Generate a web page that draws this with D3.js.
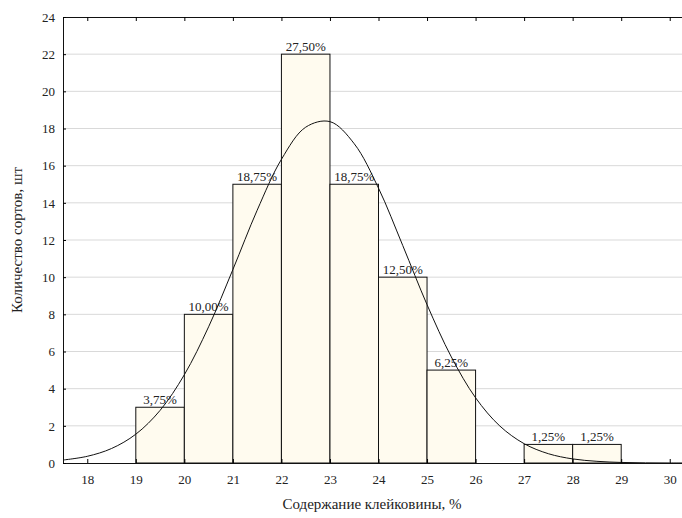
<!DOCTYPE html>
<html>
<head>
<meta charset="utf-8">
<script src="https://cdn.jsdelivr.net/npm/d3@7"></script>
<style>
  body { margin: 0; background: #fff; }
  svg text { font-family: "Liberation Serif", "Times New Roman", "DejaVu Serif", serif !important; fill: #222; }
</style>
</head>
<body>
<script>
// histogram bins (left edge), counts and labels
const binStart = [19, 20, 21, 22, 23, 24, 25, 27, 28];
const counts = [3, 8, 15, 22, 15, 10, 5, 1, 1];
const pctLabels = ["3,75%", "10,00%", "18,75%", "27,50%", "18,75%", "12,50%", "6,25%", "1,25%", "1,25%"];

// fitted normal curve
const curveX = [17.5, 18, 18.5, 19, 19.5, 20, 20.5, 21, 21.5, 22, 22.5, 23, 23.5, 24,
                24.5, 25, 25.5, 26, 26.5, 27, 27.5, 28, 28.5, 29, 29.5, 30, 30.5];
const curveY = [0.16, 0.36, 0.78, 1.55, 2.83, 4.75, 7.33, 10.41, 13.6, 16.34, 18.07, 18.37, 17.18, 14.79,
                11.7, 8.52, 5.71, 3.51, 1.99, 1.04, 0.5, 0.22, 0.09, 0.03, 0.01, 0.003, 0.001];

const xTicks = [18, 19, 20, 21, 22, 23, 24, 25, 26, 27, 28, 29, 30];
const yTicks = [0, 2, 4, 6, 8, 10, 12, 14, 16, 18, 20, 22, 24];

const width = 682;
const height = 518;

const svg = d3.select("body")
    .append("svg")
    .attr("width", width)
    .attr("height", height);

// X scale
const x = d3.scaleLinear()
    .domain([17.5, 30.5])
    .range([63, 694]);

// Y scale
const y = d3.scaleLinear()
    .domain([0, 24])
    .range([463, 17]);

// grid lines
svg.append("g")
    .selectAll("line")
    .data(yTicks.filter(d => d > 0 && d < 24))
    .enter()
    .append("line")
    .attr("x1", x(17.5))
    .attr("x2", width)
    .attr("y1", d => y(d))
    .attr("y2", d => y(d))
    .attr("stroke", "#d9d9d9")
    .attr("stroke-width", 1);

// bars
svg.selectAll("rect.bar")
    .data(counts)
    .enter()
    .append("rect")
    .attr("class", "bar")
    .attr("x", (d, i) => x(binStart[i]))
    .attr("y", d => y(d))
    .attr("width", (d, i) => x(binStart[i] + 1) - x(binStart[i]))
    .attr("height", d => y(0) - y(d))
    .attr("fill", "#fffbef")
    .attr("stroke", "#111")
    .attr("stroke-width", 1);

// percentage labels
svg.selectAll("text.pct")
    .data(counts)
    .enter()
    .append("text")
    .attr("class", "pct")
    .attr("x", (d, i) => x(binStart[i] + 0.5))
    .attr("y", d => y(d) - 3)
    .attr("text-anchor", "middle")
    .attr("font-size", 13)
    .text((d, i) => pctLabels[i]);

// normal curve
const line = d3.line()
    .x((d, i) => x(curveX[i]))
    .y(d => y(d))
    .curve(d3.curveCatmullRom);

svg.append("path")
    .datum(curveY)
    .attr("fill", "none")
    .attr("stroke", "#111")
    .attr("stroke-width", 1)
    .attr("d", line);

// X axis (bottom)
const xAxis = svg.append("g")
    .attr("transform", `translate(0,${y(0)})`)
    .call(d3.axisBottom(x).tickValues(xTicks).tickSize(-4).tickPadding(12).tickFormat(d3.format("d")));
xAxis.select(".domain").attr("stroke", "#111");
xAxis.selectAll("text").attr("font-size", 13);

// top axis
const topAxis = svg.append("g")
    .attr("transform", `translate(0,${y(24)})`)
    .call(d3.axisTop(x).tickValues(xTicks).tickSize(-4).tickFormat(""));
topAxis.select(".domain").attr("stroke", "#111");

// Y axis
const yAxis = svg.append("g")
    .attr("transform", `translate(${x(17.5)},0)`)
    .call(d3.axisLeft(y).tickValues(yTicks).tickSize(-3).tickPadding(8));
yAxis.select(".domain").attr("stroke", "#111");
yAxis.selectAll("text").attr("font-size", 13);

// axis titles
svg.append("text")
    .attr("x", 372)
    .attr("y", 509)
    .attr("text-anchor", "middle")
    .attr("font-size", 15)
    .text("Содержание клейковины, %");

svg.append("text")
    .attr("transform", "translate(22,240) rotate(-90)")
    .attr("text-anchor", "middle")
    .attr("font-size", 15)
    .text("Количество сортов, шт");
</script>
</body>
</html>
